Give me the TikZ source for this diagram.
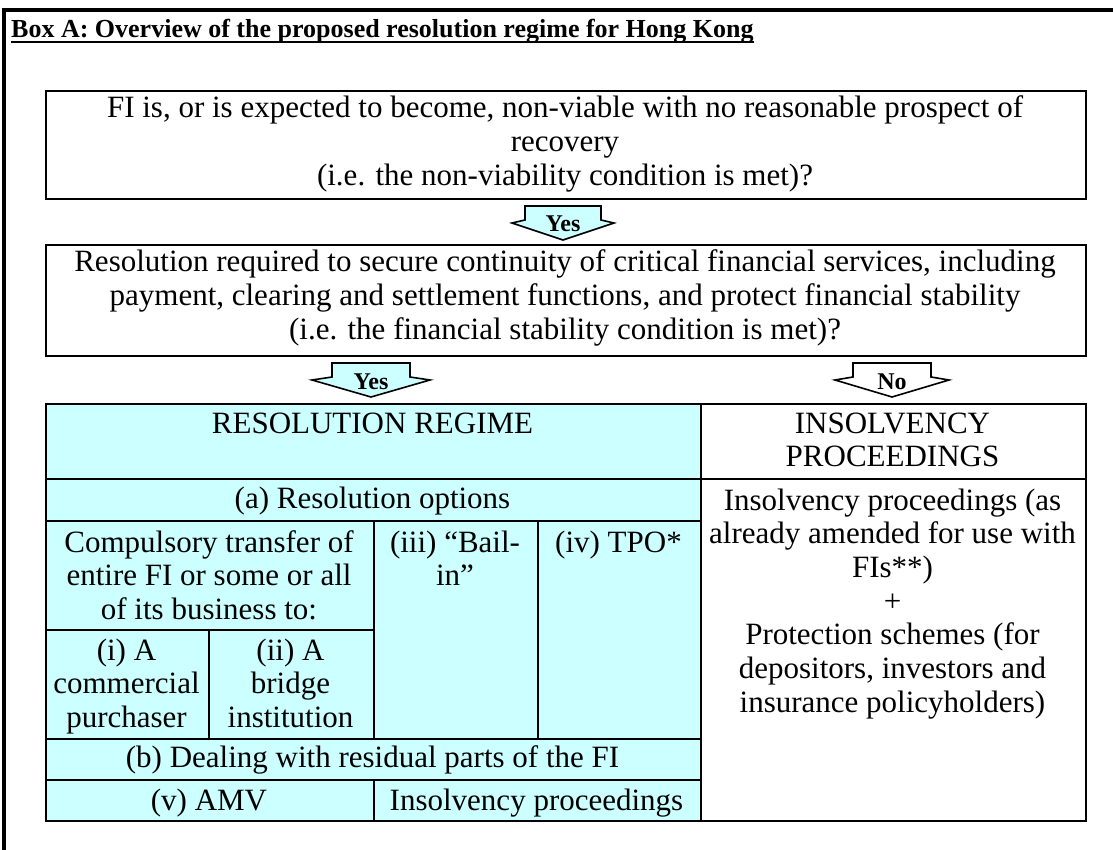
\documentclass[tikz,border=0pt]{standalone}
\usepackage{fontspec}
\setmainfont{Liberation Serif}
\definecolor{cyanfill}{HTML}{CCFFFF}
\newcommand{\ml}[1]{\begin{tabular}[t]{@{}c@{}}#1\end{tabular}}
\newcommand{\blockarrow}[6]{% name, cx, top, half body, half wing, fill
  \filldraw[arr, fill=#6] ({#2-#4},{#3}) -- ({#2+#4},{#3}) -- ({#2+#4},{#3+14}) -- ({#2+#5},{#3+17})
    -- ({#2},{#3+34}) -- ({#2-#5},{#3+17}) -- ({#2-#4},{#3+14}) -- cycle;
  \coordinate (#1) at ({#2},{#3});}
\begin{document}
\begin{tikzpicture}[x=1pt,y=-1pt,
  frame/.style={line width=3.3pt},
  box/.style={draw, line width=1.8pt, inner sep=0pt, anchor=north west},
  cyancell/.style={box, fill=cyanfill},
  whitecell/.style={box, fill=white},
  txt/.style={anchor=base, inner sep=0pt, font=\fontsize{31}{33.7}\selectfont},
  arr/.style={draw, line width=1.6pt, line join=miter},
  arrtxt/.style={anchor=base, inner sep=0pt, font=\bfseries\fontsize{24}{26}\selectfont},
]
\useasboundingbox (0,0) rectangle (1113,850);
% outer frame
\draw[frame] (4,870) -- (4,10) -- (1130,10);
% title
\node[anchor=base west, inner sep=0pt, font=\bfseries\fontsize{26}{28}\selectfont] (title) at (11,38)
  {Box A: Overview of the proposed resolution regime for Hong Kong};
\draw[line width=2pt] ([yshift=-4pt]title.base west) -- ([yshift=-4pt]title.base east);
% question boxes
\node[whitecell, minimum width=1040pt, minimum height=108pt] (box1) at (45,90) {};
\node[txt] (t1) at (565,118) {\ml{FI is, or is expected to become, non-viable with no reasonable prospect of\\recovery\\(i.e. the non-viability condition is met)?}};
\node[whitecell, minimum width=1040pt, minimum height=111pt] (box2) at (45,244) {};
\node[txt] (t2) at (565,272) {\ml{Resolution required to secure continuity of critical financial services, including\\payment, clearing and settlement functions, and protect financial stability\\(i.e. the financial stability condition is met)?}};
% arrows
\blockarrow{a1}{563}{206}{38}{51}{cyanfill}
\node[arrtxt] (y1) at (563,232) {Yes};
\blockarrow{a2}{371}{363}{39}{59}{cyanfill}
\node[arrtxt] (y2) at (371,389) {Yes};
\blockarrow{a3}{892}{363}{39}{57}{white}
\node[arrtxt] (n1) at (892,389) {No};
% table
\node[cyancell, minimum width=655pt, minimum height=75pt] (hdrL) at (45,403) {};
\node[whitecell, minimum width=385pt, minimum height=75pt] (hdrR) at (700,403) {};
\node[cyancell, minimum width=655pt, minimum height=42pt] (rowA) at (45,478) {};
\node[cyancell, minimum width=328pt, minimum height=109pt] (ct) at (45,520) {};
\node[cyancell, minimum width=164pt, minimum height=218pt] (c3) at (373,520) {};
\node[cyancell, minimum width=163pt, minimum height=218pt] (c4) at (537,520) {};
\node[cyancell, minimum width=163pt, minimum height=109pt] (c1) at (45,629) {};
\node[cyancell, minimum width=165pt, minimum height=109pt] (c2) at (208,629) {};
\node[cyancell, minimum width=655pt, minimum height=41pt] (rowB) at (45,738) {};
\node[cyancell, minimum width=328pt, minimum height=41pt] (c5) at (45,779) {};
\node[cyancell, minimum width=327pt, minimum height=41pt] (c6) at (373,779) {};
\node[whitecell, minimum width=385pt, minimum height=342pt] (insb) at (700,478) {};
% table texts
\node[txt] (thL) at (372.5,433) {RESOLUTION REGIME};
\node[txt] (thR) at (892.5,433) {\ml{INSOLVENCY\\PROCEEDINGS}};
\node[txt] (ta) at (372.5,508) {(a) Resolution options};
\node[txt] (tct) at (209,552) {\ml{Compulsory transfer of\\entire FI or some or all\\of its business to:}};
\node[txt] (t3) at (455,552) {\ml{(iii) “Bail-\\in”}};
\node[txt] (t4) at (618.5,552) {(iv) TPO*};
\node[txt] (tc1) at (126.5,660) {\ml{(i) A\\commercial\\purchaser}};
\node[txt] (tc2) at (290.5,660) {\ml{(ii) A\\bridge\\institution}};
\node[txt] (tb) at (372.5,767) {(b) Dealing with residual parts of the FI};
\node[txt] (t5) at (209,810) {(v) AMV};
\node[txt] (t6) at (536.5,810) {Insolvency proceedings};
\node[txt] (tins) at (892.5,510) {\ml{Insolvency proceedings (as\\already amended for use with\\FIs**)\\+\\Protection schemes (for\\depositors, investors and\\insurance policyholders)}};
\end{tikzpicture}
\end{document}
